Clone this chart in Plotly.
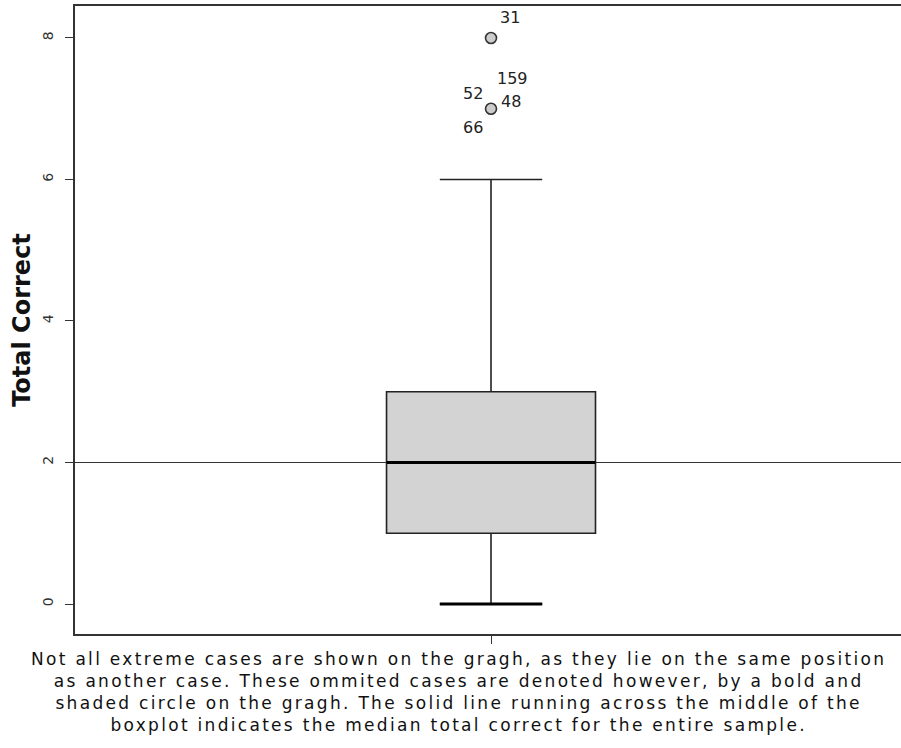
import plotly.graph_objects as go

# ---- data ----
q1 = [1]
median = [2]
q3 = [3]
lower_fence = [0]
upper_fence = [6]
overall_median = 2
outlier_values = [8, 7]
case_labels = ["31", "159", "52", "48", "66"]
case_values = [8, 7, 7, 7, 7]
y_ticks = [0, 2, 4, 6, 8]
y_title = "Total Correct"
caption_lines = [
    "Not all extreme cases are shown on the gragh, as they lie on the same position",
    "as another case. These ommited cases are denoted however, by a bold and",
    "shaded circle on the gragh. The solid line running across the middle of the",
    "boxplot indicates the median total correct for the entire sample.",
]

BOX_W = 0.506
WHISK = 0.49
fig = go.Figure()

fig.add_hline(y=overall_median, line=dict(color="#333333", width=1.2), layer="below")

fig.add_trace(go.Box(
    x=[0], q1=q1, median=median, q3=q3,
    lowerfence=lower_fence, upperfence=upper_fence,
    width=BOX_W, whiskerwidth=WHISK,
    fillcolor="#d3d3d3",
    line=dict(color="#222222", width=1.6),
    boxpoints=False, showlegend=False, hoverinfo="skip",
))

# thicker median line
fig.add_trace(go.Scatter(
    x=[-BOX_W / 2, BOX_W / 2], y=[median[0], median[0]], mode="lines",
    line=dict(color="#000000", width=3.2), showlegend=False, hoverinfo="skip",
))
# bold lower cap (several cases at minimum)
fig.add_trace(go.Scatter(
    x=[-BOX_W * WHISK / 2, BOX_W * WHISK / 2], y=[lower_fence[0], lower_fence[0]], mode="lines",
    line=dict(color="#000000", width=3), showlegend=False, hoverinfo="skip",
))

fig.add_trace(go.Scatter(
    x=[0] * len(outlier_values), y=outlier_values, mode="markers",
    marker=dict(size=11, color="#cccccc", line=dict(color="#333333", width=1.6)),
    showlegend=False, hoverinfo="skip",
))

offsets = {"31": (19, 20), "159": (21, 30), "52": (-18, 15), "48": (20, 7), "66": (-18, -19)}
for lab, val in zip(case_labels, case_values):
    dx, dy = offsets[lab]
    fig.add_annotation(x=0, y=val, text=lab, showarrow=False, xshift=dx, yshift=dy,
                       font=dict(family="DejaVu Sans", size=16, color="#222222"))

caption = "<br>".join(
    '<span style="letter-spacing:2.3px">' + ln + "</span>" for ln in caption_lines
)
fig.add_annotation(x=0.4637, xref="paper", y=0, yref="paper", yshift=-58,
                   text=caption, showarrow=False, xanchor="center", yanchor="middle",
                   align="center",
                   font=dict(family="DejaVu Sans", size=17, color="#111111"))

fig.update_layout(
    width=901, height=748,
    margin=dict(l=75, r=0, t=6, b=114),
    plot_bgcolor="white", paper_bgcolor="white",
    font=dict(family="DejaVu Sans", color="#222222"),
)
fig.update_xaxes(
    range=[-1.0073, 0.9927], tickvals=[0], ticktext=[""], ticks="outside", ticklen=8,
    tickcolor="#333333", showgrid=False, zeroline=False,
    showline=True, linecolor="#333333", linewidth=1.5, mirror=True,
)
fig.update_yaxes(
    range=[-0.424, 8.452], tickvals=y_ticks, ticks="outside", ticklen=8,
    tickcolor="#333333", tickangle=-90, tickfont=dict(size=14, color="#333333"),
    ticklabelstandoff=7,
    showgrid=False, zeroline=False, showline=True, linecolor="#333333", linewidth=1.5,
    title=dict(text="<b>" + y_title + "</b>", font=dict(size=24, color="#111111"), standoff=2),
)

fig.write_html("out.html", post_script="document.body.style.margin='0';",
               config={"displayModeBar": False})
